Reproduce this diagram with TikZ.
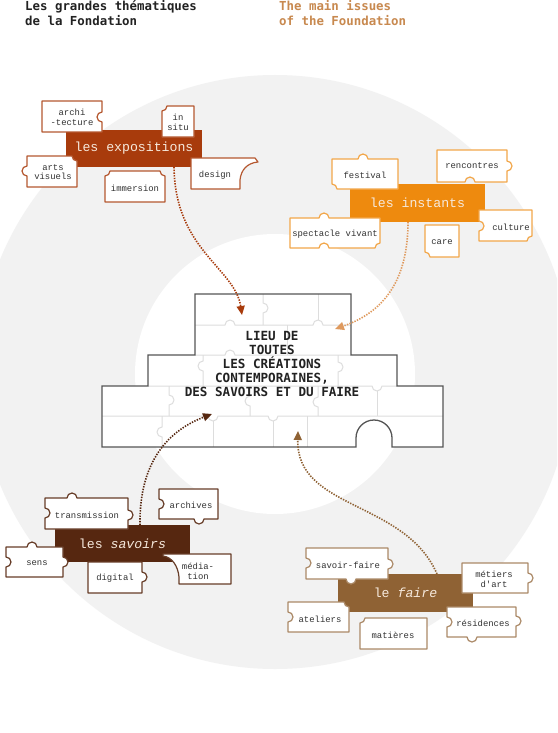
\documentclass[tikz,border=0pt]{standalone}
\usepackage{fontspec}
\usetikzlibrary{arrows.meta}
\newfontfamily\fB{DejaVu Sans Mono}
\newfontfamily\fL{Liberation Mono}
\definecolor{cExpo}{HTML}{A83B0C}
\definecolor{cInst}{HTML}{EE8A0E}
\definecolor{cSav}{HTML}{562710}
\definecolor{cFaire}{HTML}{8F6234}
\definecolor{cInstLink}{HTML}{DF9A5E}
\definecolor{cTitle2}{HTML}{C8894F}
\definecolor{cBg}{HTML}{F2F2F2}
\definecolor{cGrid}{HTML}{DDDDDD}
\definecolor{cOut}{HTML}{555555}
\definecolor{cTxt}{HTML}{333333}
\definecolor{cDark}{HTML}{222222}
\definecolor{cCream}{HTML}{F6E9DC}
\colorlet{bExpo}{cExpo!85!white}
\colorlet{bInst}{cInst!75!white}
\colorlet{bSav}{cSav!90!white}
\colorlet{bFaire}{cFaire!75!white}
% puzzle edge features (screen coordinates, y downwards)
\newcommand\pzTO[2]{-- ({#1-5},{-(#2)}) arc[start angle=180,end angle=0,radius=5]}
\newcommand\pzTI[2]{-- ({#1-5},{-(#2)}) arc[start angle=180,end angle=360,radius=5]}
\newcommand\pzRO[2]{-- ({#1},{-(#2-5)}) arc[start angle=90,end angle=-90,radius=5]}
\newcommand\pzRI[2]{-- ({#1},{-(#2-5)}) arc[start angle=90,end angle=270,radius=5]}
\newcommand\pzBO[2]{-- ({#1+5},{-(#2)}) arc[start angle=0,end angle=-180,radius=5]}
\newcommand\pzBI[2]{-- ({#1+5},{-(#2)}) arc[start angle=0,end angle=180,radius=5]}
\newcommand\pzLO[2]{-- ({#1},{-(#2+5)}) arc[start angle=270,end angle=90,radius=5]}
\newcommand\pzLI[2]{-- ({#1},{-(#2+5)}) arc[start angle=-90,end angle=90,radius=5]}
\newcommand\pzCTL[2]{-- ({#1},{-(#2+5)}) arc[start angle=-90,end angle=0,radius=5]}
\newcommand\pzCTR[2]{-- ({#1-5},{-(#2)}) arc[start angle=180,end angle=270,radius=5]}
\newcommand\pzCBR[2]{-- ({#1},{-(#2-5)}) arc[start angle=90,end angle=180,radius=5]}
\newcommand\pzCBL[2]{-- ({#1+5},{-(#2)}) arc[start angle=0,end angle=90,radius=5]}
\newcommand\pzMain{(195,-294) -- (351,-294) -- (351,-355) -- (397,-355) -- (397,-386) -- (443,-386) -- (443,-447) -- (392,-447) -- (392,-438) arc[start angle=0,end angle=180,radius=18] -- (356,-447) -- (102,-447) -- (102,-386) -- (148,-386) -- (148,-355) -- (195,-355) -- cycle}
\begin{document}
\begin{tikzpicture}[x=1pt,y=1pt,
  sat/.style={fill=white, line width=1.2pt, line join=round},
  lab/.style={font=\fL\fontsize{8.9}{9.8}\selectfont, text=cTxt, align=center, inner sep=0},
  big/.style={font=\fL\fontsize{13.2}{15}\selectfont, inner sep=0, text=cCream},
  ctr/.style={font=\fB\bfseries\fontsize{12.6}{14}\selectfont, text=cDark, anchor=base, inner sep=0},
  ttl/.style={font=\fB\bfseries\fontsize{12.4}{14}\selectfont, anchor=base west, inner sep=0},
  link/.style={line width=1.6pt, dash pattern=on 1.4pt off 1.3pt, -{Triangle[length=9pt,width=8pt]}},
  grid/.style={draw=cGrid, line width=1pt},
]
\useasboundingbox (0,0) rectangle (557,-733);
\clip (0,0) rectangle (557,-733);
\fill[white] (0,0) rectangle (557,-733);
\fill[cBg] (275,-372) circle[radius=297];
\fill[white] (275,-374) circle[radius=140];

% titles
\node[ttl, text=cDark] (t1) at (25,-11) {Les grandes thématiques};
\node[ttl, text=cDark] (t2) at (25,-25.5) {de la Fondation};
\node[ttl, text=cTitle2] (t3) at (279,-11) {The main issues};
\node[ttl, text=cTitle2] (t4) at (279,-25.5) {of the Foundation};

% central puzzle
\fill[white] \pzMain;
\draw[grid] (195,-325) \pzTO{230}{325} \pzTO{318}{325} -- (351,-325);
\draw[grid] (263,-294) \pzRO{263}{308} -- (263,-325);
\draw[grid] (318,-294) -- (318,-320);
\draw[grid] (287,-325) -- (287,-355);
\draw[grid] (195,-355) \pzTO{230}{355} -- (351,-355);
\draw[grid] (203,-355) \pzRI{203}{366} -- (203,-386);
\draw[grid] (338,-355) \pzRO{338}{367} -- (338,-386);
\draw[grid] (148,-386) \pzTI{377}{386} -- (397,-386);
\draw[grid] (169,-386) \pzRO{169}{400} -- (169,-416);
\draw[grid] (250,-386) \pzRI{250}{401} -- (250,-416);
\draw[grid] (318,-386) \pzRI{318}{402} -- (318,-416);
\draw[grid] (377,-391) -- (377,-416);
\draw[grid] (102,-416) \pzTI{213}{416} \pzTI{273}{416} -- (443,-416);
\draw[grid] (162,-416) \pzRI{162}{432} -- (162,-447);
\draw[grid] (213,-421) -- (213,-447);
\draw[grid] (273,-421) -- (273,-447);
\draw[grid] (307,-416) -- (307,-447);
\draw[draw=cOut, line width=1.3pt, line join=miter] \pzMain;
\node[ctr] (c1) at (272,-340) {LIEU DE};
\node[ctr] (c2) at (272,-354.2) {TOUTES};
\node[ctr] (c3) at (272,-368.4) {LES CRÉATIONS};
\node[ctr] (c4) at (272,-382.6) {CONTEMPORAINES,};
\node[ctr] (c5) at (272,-396.8) {DES SAVOIRS ET DU FAIRE};

% connectors
\coordinate (eA) at (174,-167); \coordinate (eB) at (242,-315);
\coordinate (iA) at (408,-222); \coordinate (iB) at (335,-329);
\coordinate (sA) at (140,-525); \coordinate (sB) at (212,-414);
\coordinate (fA) at (437,-574); \coordinate (fB) at (298,-431);
\draw[link, draw=cExpo] (eA) .. controls (175,-250) and (235,-268) .. (eB);
\draw[link, draw=cInstLink] (iA) .. controls (408,-290) and (375,-315) .. (iB);
\draw[link, draw=cSav] (sA) .. controls (139,-460) and (170,-430) .. (sB);
\draw[link, draw=cFaire] (fA) .. controls (405,-500) and (296,-510) .. (fB);

% main theme boxes
\node[big, fill=cExpo, minimum width=136pt, minimum height=37pt] (expo) at (134,-148.5) {les expositions};
\node[big, fill=cInst, minimum width=135pt, minimum height=38pt] (inst) at (417.5,-203) {les instants};
\node[big, fill=cSav, minimum width=135pt, minimum height=37pt] (sav) at (122.5,-543.5) {les \textit{savoirs}};
\node[big, fill=cFaire, minimum width=135pt, minimum height=38pt] (fai) at (405.5,-593) {le \textit{faire}};

% --- les expositions
\draw[sat, draw=bExpo] (42,-101) -- (102,-101) \pzRI{102}{117} -- (102,-132) -- (42,-132) -- cycle;
\node[lab] (archi) at (72,-117) {archi\\-tecture};
\draw[sat, draw=bExpo] (167,-106) -- (194,-106) -- (194,-137) -- (162,-137) \pzCTL{162}{106} -- cycle;
\node[lab] (insitu) at (178,-122) {in\\situ};
\draw[sat, draw=bExpo] (27,-156) \pzCTR{77}{156} -- (77,-187) -- (27,-187) \pzLO{27}{171} -- cycle;
\node[lab] (arts) at (53,-172) {arts\\visuels};
\draw[sat, draw=bExpo] (110,-171) \pzCTR{165}{171} -- (165,-202) -- (105,-202) \pzCTL{105}{171} -- cycle;
\node[lab] (immersion) at (135,-188) {immersion};
\draw[sat, draw=bExpo] (191,-158) -- (255,-158) -- (258,-162) .. controls (247,-163) and (241,-170) .. (240,-180) -- (240,-189) -- (191,-189) -- cycle;
\node[lab] (design) at (215,-175) {design};

% --- les instants
\draw[sat, draw=bInst] (332,-159) \pzTO{363}{159} -- (398,-159) -- (398,-189) \pzCBL{332}{189} -- cycle;
\node[lab] (festival) at (365,-175) {festival};
\draw[sat, draw=bInst] (437,-150) -- (507,-150) \pzRO{507}{166} -- (507,-182) \pzBI{470}{182} -- (437,-182) -- cycle;
\node[lab] (rencontres) at (472,-166) {rencontres};
\draw[sat, draw=bInst] (290,-218) \pzTO{324}{218} -- (380,-218) \pzCBR{380}{248} \pzBI{324}{248} -- (290,-248) -- cycle;
\node[lab] (spectacle) at (335,-234) {spectacle vivant};
\draw[sat, draw=bInst] (479,-210) -- (532,-210) \pzCBR{532}{241} -- (479,-241) \pzLI{479}{226} -- cycle;
\node[lab] (culture) at (511,-227) {culture};
\draw[sat, draw=bInst] (425,-225) -- (459,-225) -- (459,-257) \pzCBL{425}{257} -- cycle;
\node[lab] (care) at (442,-242) {care};

% --- les savoirs
\draw[sat, draw=bSav] (45,-498) \pzTO{72}{498} -- (128,-498) \pzRO{128}{515} -- (128,-529) -- (45,-529) \pzLI{45}{513} -- cycle;
\node[lab] (transmission) at (87,-515) {transmission};
\draw[sat, draw=bSav] (159,-489) -- (218,-489) -- (218,-519) \pzBO{199}{519} -- (159,-519) \pzLI{159}{504} -- cycle;
\node[lab] (archives) at (191,-505) {archives};
\draw[sat, draw=bSav] (6,-547) \pzTO{32}{547} -- (63,-547) \pzRO{63}{562} -- (63,-577) -- (6,-577) \pzLI{6}{562} -- cycle;
\node[lab] (sens) at (37,-563) {sens};
\draw[sat, draw=bSav] (88,-562) -- (142,-562) \pzRO{142}{577} -- (142,-593) -- (88,-593) -- cycle;
\node[lab] (digital) at (115,-578) {digital};
\draw[sat, draw=bSav] (163,-554) -- (231,-554) -- (231,-584) -- (179,-584) -- (179,-577) .. controls (178,-566) and (172,-557) .. (163,-556) -- cycle;
\node[lab] (mediation) at (198,-571) {média-\\tion};

% --- le faire
\draw[sat, draw=bFaire] (306,-548) -- (388,-548) \pzRO{388}{564} -- (388,-579) \pzBO{351}{579} -- (306,-579) \pzLI{306}{563} -- cycle;
\node[lab] (savoirfaire) at (348,-565) {savoir-faire};
\draw[sat, draw=bFaire] (462,-563) -- (528,-563) \pzRO{528}{578} -- (528,-593) -- (462,-593) -- cycle;
\node[lab] (metiers) at (494,-579) {métiers\\d'art};
\draw[sat, draw=bFaire] (288,-602) \pzCTR{349}{602} -- (349,-632) -- (288,-632) \pzLI{288}{617} -- cycle;
\node[lab] (ateliers) at (320,-619) {ateliers};
\draw[sat, draw=bFaire] (365,-618) -- (427,-618) -- (427,-649) -- (360,-649) \pzCTL{360}{618} -- cycle;
\node[lab] (matieres) at (393,-635) {matières};
\draw[sat, draw=bFaire] (447,-607) -- (516,-607) \pzRO{516}{621} -- (516,-637) \pzBO{472}{637} -- (447,-637) \pzLI{447}{622} -- cycle;
\node[lab] (residences) at (483,-623) {résidences};
\end{tikzpicture}
\end{document}
